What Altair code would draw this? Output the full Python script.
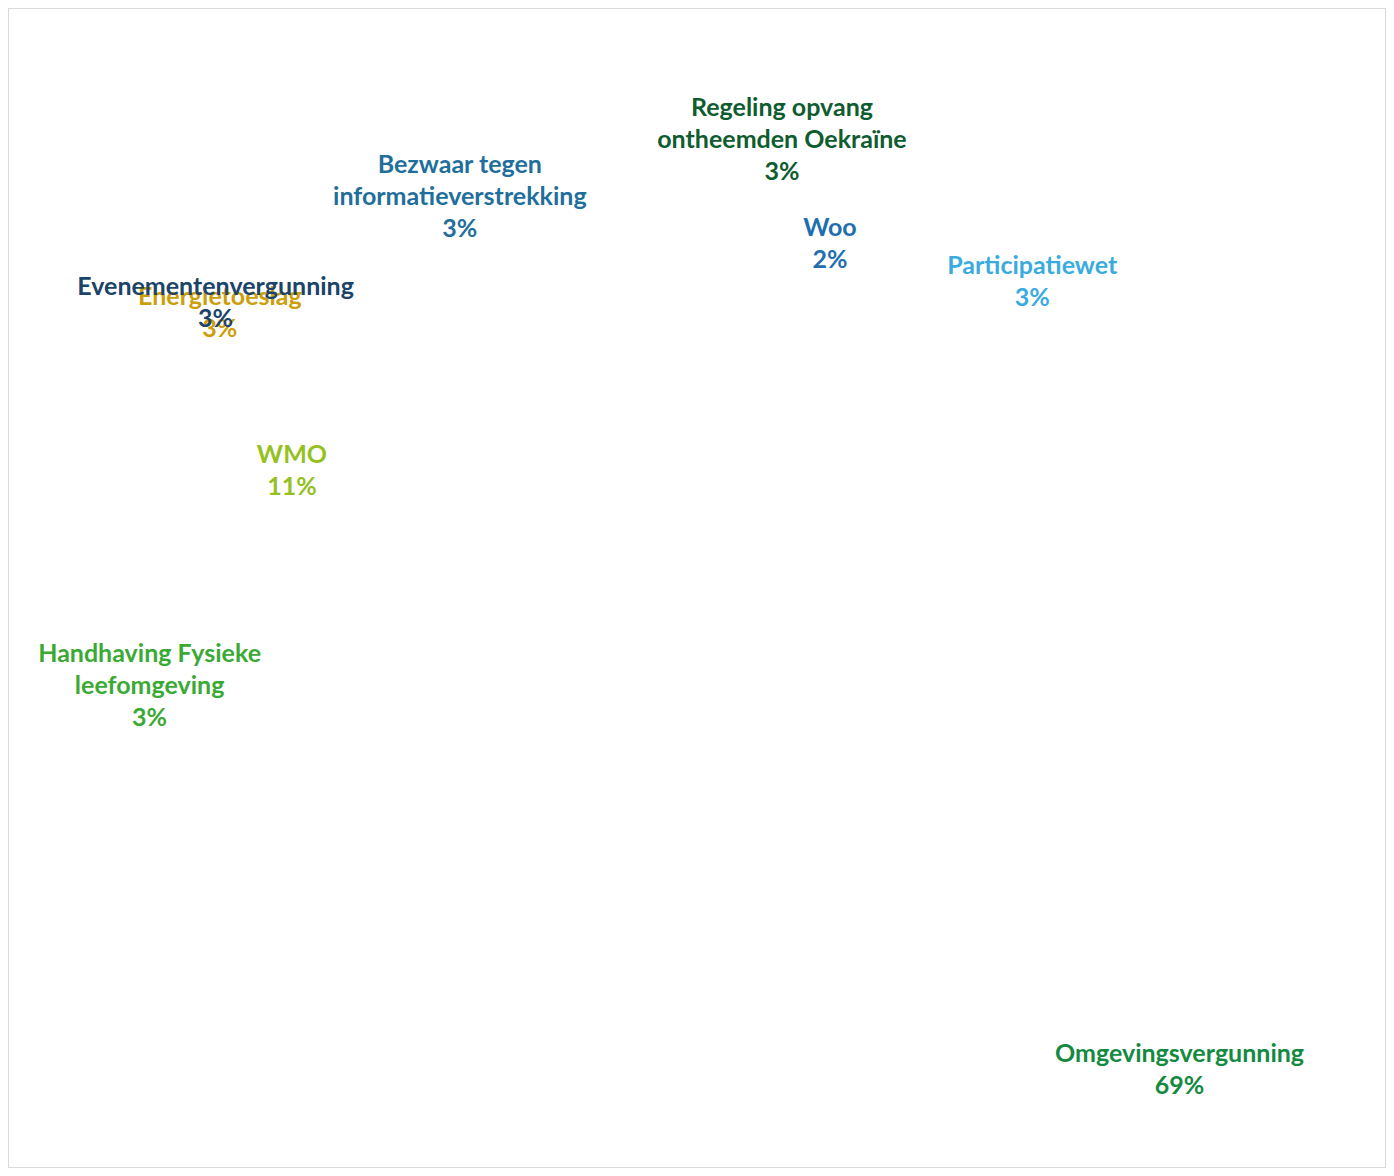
import math
import altair as alt
import pandas as pd

# ---- data ----
categories = [
    "Participatiewet",
    "Omgevingsvergunning",
    "Handhaving Fysieke leefomgeving",
    "WMO",
    "Energietoeslag",
    "Evenementenvergunning",
    "Bezwaar tegen informatieverstrekking",
    "Regeling opvang ontheemden Oekraïne",
    "Woo",
]
label_lines = [
    ["Participatiewet"],
    ["Omgevingsvergunning"],
    ["Handhaving Fysieke", "leefomgeving"],
    ["WMO"],
    ["Energietoeslag"],
    ["Evenementenvergunning"],
    ["Bezwaar tegen", "informatieverstrekking"],
    ["Regeling opvang", "ontheemden Oekraïne"],
    ["Woo"],
]
percentages = [3, 69, 3, 11, 3, 3, 3, 3, 2]

# ---- styling ----
palette = ["#3aabe0", "#138a3f", "#3aaa35", "#95c11f", "#cc9e0a",
           "#1b4468", "#1f6f9c", "#0e5c2f", "#1f6fb0"]
font_size = 25
line_height = 32

# label layout (best-fit style displacement of the data labels)
label_angle_shift_deg = [34.9, -0.3, 0.0, 0.0, -13.4, -23.6, -9.1, 17.95, 17.25]
label_distance_px = [458, 624, 589, 472, 606, 615, 514, 493, 398]
pie_center = (728, 623)

total = sum(percentages)
rows = []
cum = 0.0
for i, (c, lines, v) in enumerate(zip(categories, label_lines, percentages)):
    mid = (cum + v / 2.0) / total
    cum += v
    text_lines = lines + [f"{v}%"]
    rows.append({
        "idx": i,
        "category": c,
        "value": v,
        "label": text_lines,
        "n_lines": len(text_lines),
        "label_theta": 2 * math.pi * mid + math.radians(label_angle_shift_deg[i]),
        "label_r": label_distance_px[i],
    })
df = pd.DataFrame(rows)

color = alt.Color("category:N", scale=alt.Scale(domain=categories, range=palette), legend=None)

base = alt.Chart(df)

slices = base.mark_arc(opacity=0).encode(
    theta=alt.Theta("value:Q", stack=True),
    color=color,
    order=alt.Order("idx:Q"),
    x=alt.value(pie_center[0]),
    y=alt.value(pie_center[1]),
)

layers = [slices]
for n in sorted(df["n_lines"].unique()):
    layers.append(
        base.transform_filter(alt.datum.n_lines == int(n)).mark_text(
            font="Lato", fontWeight="bold", fontSize=font_size, lineHeight=line_height,
            align="center", baseline="middle", dy=-(int(n) - 1) * line_height / 2,
        ).encode(
            theta=alt.Theta("label_theta:Q", scale=None),
            radius=alt.Radius("label_r:Q", scale=None),
            text=alt.Text("label"),
            color=color,
            order=alt.Order("idx:Q"),
            x=alt.value(pie_center[0]),
            y=alt.value(pie_center[1]),
        )
    )

chart = alt.layer(*layers).resolve_scale(
    theta="independent", radius="independent"
).properties(
    width=1378, height=1160, padding=0, autosize="none",
    view=alt.ViewBackground(stroke="#d9d9d9", strokeWidth=2),
)

chart.save("out.html", embed_options={"renderer": "svg", "actions": False})
